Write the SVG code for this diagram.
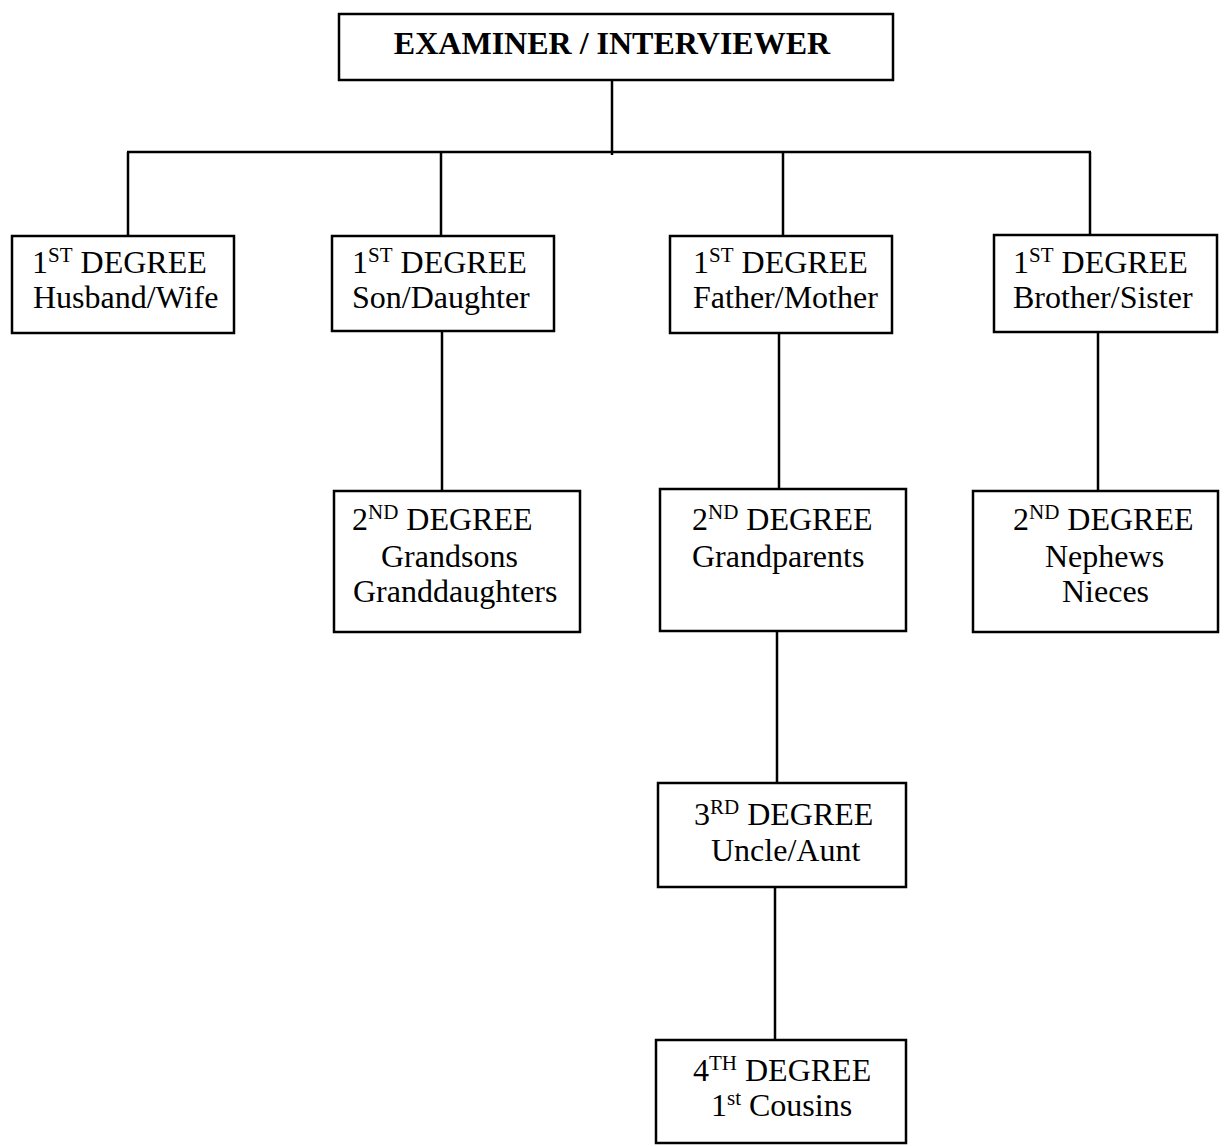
<svg xmlns="http://www.w3.org/2000/svg" width="1224" height="1147" viewBox="0 0 1224 1147">
<style>
.box{fill:#fff;stroke:#000;stroke-width:2.5}
.ln{stroke:#000;stroke-width:2.5;fill:none}
.t{font-family:"Liberation Serif","Times New Roman",serif;font-size:32px;fill:#000}
.b{font-weight:bold}
.sup{font-size:21px}
</style>
<rect width="1224" height="1147" fill="#fff"/>
<g id="connectors">
<line class="ln" x1="612" y1="71" x2="612" y2="155"/>
<line class="ln" x1="127" y1="152" x2="1091" y2="152"/>
<line class="ln" x1="128" y1="152" x2="128" y2="238"/>
<line class="ln" x1="441" y1="152" x2="441" y2="237"/>
<line class="ln" x1="783" y1="152" x2="783" y2="237"/>
<line class="ln" x1="1090" y1="152" x2="1090" y2="236"/>
<line class="ln" x1="442" y1="329" x2="442" y2="495"/>
<line class="ln" x1="779" y1="332" x2="779" y2="492"/>
<line class="ln" x1="1098" y1="331" x2="1098" y2="494"/>
<line class="ln" x1="777" y1="627" x2="777" y2="787"/>
<line class="ln" x1="775" y1="883" x2="775" y2="1041"/>
</g>
<g id="examiner">
<rect class="box" x="339" y="14" width="554" height="66"/>
<text class="t b" x="612" y="54" text-anchor="middle">EXAMINER / INTERVIEWER</text>
</g>
<g id="husband-wife">
<rect class="box" x="12" y="236" width="222" height="97"/>
<text class="t" x="32" y="273">1<tspan class="sup" dy="-11">ST</tspan><tspan dy="11"> DEGREE</tspan></text>
<text class="t" x="33" y="308">Husband/Wife</text>
</g>
<g id="son-daughter">
<rect class="box" x="332" y="236" width="222" height="95"/>
<text class="t" x="352" y="273">1<tspan class="sup" dy="-11">ST</tspan><tspan dy="11"> DEGREE</tspan></text>
<text class="t" x="352" y="308">Son/Daughter</text>
</g>
<g id="father-mother">
<rect class="box" x="670" y="236" width="222" height="97"/>
<text class="t" x="693" y="273">1<tspan class="sup" dy="-11">ST</tspan><tspan dy="11"> DEGREE</tspan></text>
<text class="t" x="693" y="308">Father/Mother</text>
</g>
<g id="brother-sister">
<rect class="box" x="994" y="235" width="223" height="97"/>
<text class="t" x="1013" y="273">1<tspan class="sup" dy="-11">ST</tspan><tspan dy="11"> DEGREE</tspan></text>
<text class="t" x="1013" y="308">Brother/Sister</text>
</g>
<g id="grandchildren">
<rect class="box" x="334" y="491" width="246" height="141"/>
<text class="t" x="352" y="530">2<tspan class="sup" dy="-11">ND</tspan><tspan dy="11"> DEGREE</tspan></text>
<text class="t" x="381" y="567">Grandsons</text>
<text class="t" x="353" y="602">Granddaughters</text>
</g>
<g id="grandparents">
<rect class="box" x="660" y="489" width="246" height="142"/>
<text class="t" x="692" y="530">2<tspan class="sup" dy="-11">ND</tspan><tspan dy="11"> DEGREE</tspan></text>
<text class="t" x="692" y="567">Grandparents</text>
</g>
<g id="nephews-nieces">
<rect class="box" x="973" y="491" width="245" height="141"/>
<text class="t" x="1013" y="530">2<tspan class="sup" dy="-11">ND</tspan><tspan dy="11"> DEGREE</tspan></text>
<text class="t" x="1045" y="567">Nephews</text>
<text class="t" x="1062" y="602">Nieces</text>
</g>
<g id="uncle-aunt">
<rect class="box" x="658" y="783" width="248" height="104"/>
<text class="t" x="694" y="825">3<tspan class="sup" dy="-11">RD</tspan><tspan dy="11"> DEGREE</tspan></text>
<text class="t" x="711" y="861">Uncle/Aunt</text>
</g>
<g id="cousins">
<rect class="box" x="656" y="1040" width="250" height="103"/>
<text class="t" x="693" y="1081">4<tspan class="sup" dy="-11">TH</tspan><tspan dy="11"> DEGREE</tspan></text>
<text class="t" x="711" y="1116">1<tspan class="sup" dy="-11">st</tspan><tspan dy="11"> Cousins</tspan></text>
</g>
</svg>
